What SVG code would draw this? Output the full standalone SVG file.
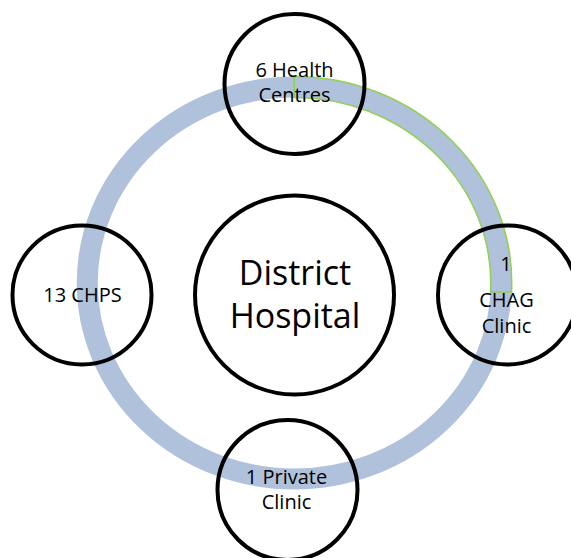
<svg xmlns="http://www.w3.org/2000/svg" width="571" height="558" viewBox="0 0 571 558">
  <style>
    .ring { fill: none; stroke: #B0C1DC; stroke-width: 21; }
    .hl { fill: none; stroke: #92D050; stroke-width: 1.5; stroke-linejoin: miter; }
    .node { fill: none; stroke: #000; stroke-width: 4; }
    .lbl { font-family: "Open Sans", "Noto Sans", "DejaVu Sans", sans-serif; font-size: 20px; fill: #000; text-anchor: middle; }
    .big { font-size: 34px; }
  </style>
  <rect width="571" height="558" fill="#fff"/>

  <!-- cycle ring linking the facilities, with the highlighted quarter -->
  <g id="connectors">
    <ellipse class="ring" cx="294.25" cy="283" rx="207" ry="196"/>
    <path class="hl" d="M 294.25 76.5 A 217.5 206.5 0 0 1 511.54 292 L 490.52 292 A 196.5 185.5 0 0 0 294.25 97.5 Z"/>
  </g>

  <g id="district-hospital">
    <circle class="node" cx="294.5" cy="295" r="99.5"/>
    <text class="lbl big" x="295" y="284.5">District</text>
    <text class="lbl big" x="295" y="327.5">Hospital</text>
  </g>

  <g id="health-centres">
    <circle class="node" cx="294.5" cy="84" r="70"/>
    <text class="lbl" x="294.5" y="77">6 Health</text>
    <text class="lbl" x="294.5" y="101.5">Centres</text>
  </g>

  <g id="chps">
    <circle class="node" cx="82" cy="295" r="69.5"/>
    <text class="lbl" x="82.5" y="301.5">13 CHPS</text>
  </g>

  <g id="chag-clinic">
    <circle class="node" cx="507.5" cy="295" r="69.5"/>
    <text class="lbl" x="506" y="270.5">1</text>
    <text class="lbl" x="506.5" y="306.5">CHAG</text>
    <text class="lbl" x="506.5" y="333">Clinic</text>
  </g>

  <g id="private-clinic">
    <circle class="node" cx="287.5" cy="490" r="70"/>
    <text class="lbl" x="286.5" y="484">1 Private</text>
    <text class="lbl" x="286.5" y="509">Clinic</text>
  </g>
</svg>
